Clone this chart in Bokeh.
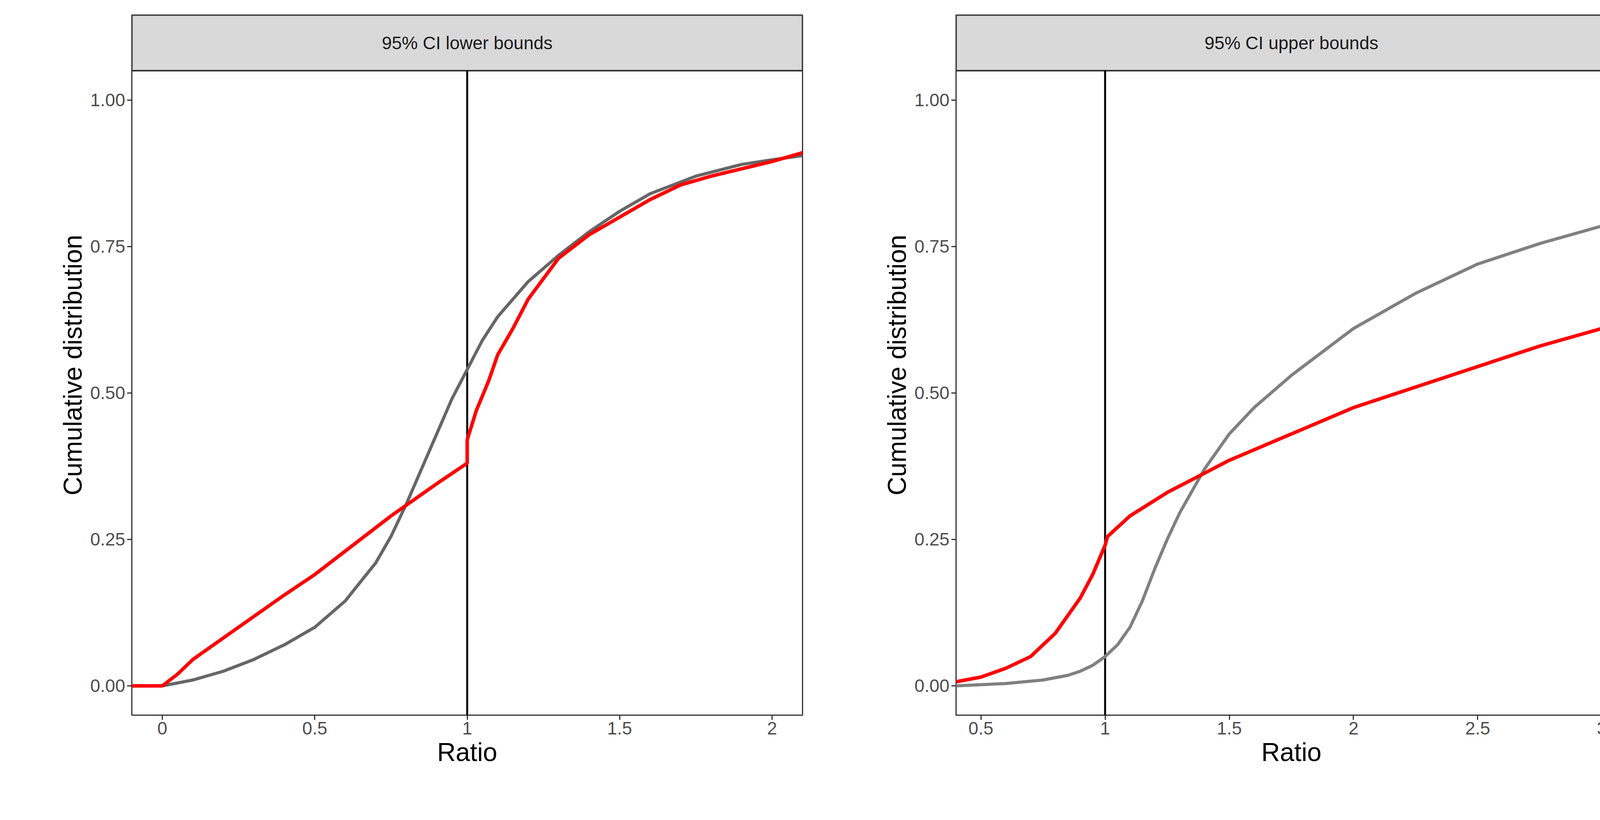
from bokeh.plotting import figure
from bokeh.layouts import row
from bokeh.models import Range1d, FixedTicker
from bokeh.embed import file_html
from bokeh.resources import INLINE

# left panel: 95% CI lower bounds
lo_gray_x = [0, 0.1, 0.2, 0.3, 0.4, 0.5, 0.6, 0.7, 0.75, 0.8, 0.85, 0.9, 0.95, 1.0, 1.05, 1.1, 1.2, 1.3, 1.4, 1.5, 1.6, 1.75, 1.9, 2.0, 2.1]
lo_gray_y = [0, 0.01, 0.025, 0.045, 0.07, 0.10, 0.145, 0.21, 0.255, 0.31, 0.37, 0.43, 0.49, 0.54, 0.59, 0.63, 0.69, 0.735, 0.775, 0.81, 0.84, 0.87, 0.89, 0.898, 0.905]
lo_red_x = [-0.1, 0.0, 0.05, 0.1, 0.25, 0.4, 0.5, 0.6, 0.75, 0.9, 1.0, 1.0, 1.03, 1.07, 1.1, 1.15, 1.2, 1.3, 1.4, 1.5, 1.6, 1.7, 1.8, 2.0, 2.1]
lo_red_y = [0, 0, 0.02, 0.045, 0.10, 0.155, 0.19, 0.23, 0.29, 0.345, 0.38, 0.42, 0.47, 0.52, 0.565, 0.61, 0.66, 0.73, 0.77, 0.80, 0.83, 0.855, 0.87, 0.895, 0.91]

# right panel: 95% CI upper bounds
hi_gray_x = [0.4, 0.6, 0.75, 0.85, 0.9, 0.95, 1.0, 1.05, 1.1, 1.15, 1.2, 1.25, 1.3, 1.4, 1.5, 1.6, 1.75, 2.0, 2.25, 2.5, 2.75, 3.0, 3.1]
hi_gray_y = [0.0, 0.004, 0.01, 0.018, 0.025, 0.035, 0.05, 0.07, 0.10, 0.145, 0.20, 0.25, 0.295, 0.37, 0.43, 0.475, 0.53, 0.61, 0.67, 0.72, 0.755, 0.785, 0.795]
hi_red_x = [0.4, 0.5, 0.6, 0.7, 0.8, 0.9, 0.95, 1.0, 1.01, 1.1, 1.25, 1.5, 1.75, 2.0, 2.25, 2.5, 2.75, 3.0, 3.1]
hi_red_y = [0.007, 0.015, 0.03, 0.05, 0.09, 0.15, 0.19, 0.24, 0.255, 0.29, 0.33, 0.385, 0.43, 0.475, 0.51, 0.545, 0.58, 0.61, 0.62]

y_ticks = [0, 0.25, 0.5, 0.75, 1.0]
y_labels = {0: "0.00", 0.25: "0.25", 0.5: "0.50", 0.75: "0.75", 1: "1.00"}
STRIP_H = 0.095


def panel(title, xr, xticks, xlabels, gx, gy, rx, ry, gray_col, right_border):
    p = figure(frame_width=1717, frame_height=1793, output_backend="svg", toolbar_location=None,
               x_range=Range1d(*xr), y_range=Range1d(-0.05, 1.05 + STRIP_H),
               min_border_top=38, min_border_bottom=253, min_border_left=337,
               min_border_right=right_border)
    p.grid.visible = False
    p.outline_line_color = "#333333"
    p.outline_line_width = 3
    # strip
    p.quad(left=xr[0], right=xr[1], bottom=1.05, top=1.05 + STRIP_H,
           fill_color="#D9D9D9", line_color="#333333", line_width=4)
    p.text(x=[(xr[0] + xr[1]) / 2], y=[1.05 + STRIP_H / 2], text=[title],
           text_align="center", text_baseline="middle", text_font_size="46px",
           text_color="#1A1A1A")
    p.segment(x0=[1], y0=[-0.05], x1=[1], y1=[1.05], line_color="black", line_width=5)
    p.line(gx, gy, line_color=gray_col, line_width=8)
    p.line(rx, ry, line_color="#FF0000", line_width=9)
    for ax in (p.xaxis[0], p.yaxis[0]):
        ax.axis_line_color = None
        ax.major_tick_line_color = "#333333"
        ax.major_tick_line_width = 3
        ax.major_tick_out = 12
        ax.major_tick_in = 0
        ax.minor_tick_line_color = None
        ax.major_label_text_font_size = "46px"
        ax.major_label_text_color = "#4D4D4D"
        ax.axis_label_text_font_size = "66px"
        ax.axis_label_text_font_style = "normal"
        ax.axis_label_text_color = "black"
    p.yaxis.ticker = FixedTicker(ticks=y_ticks)
    p.yaxis.major_label_overrides = y_labels
    p.xaxis.ticker = FixedTicker(ticks=xticks)
    p.xaxis.major_label_overrides = xlabels
    p.xaxis.axis_label = "Ratio"
    p.yaxis.axis_label = "Cumulative distribution"
    return p


p1 = panel("95% CI lower bounds", (-0.1, 2.1), [0, 0.5, 1, 1.5, 2],
           {0: "0", 0.5: "0.5", 1: "1", 1.5: "1.5", 2: "2"},
           lo_gray_x, lo_gray_y, lo_red_x, lo_red_y, "#666666", 56)
p2 = panel("95% CI upper bounds", (0.4, 3.1), [0.5, 1, 1.5, 2, 2.5, 3],
           {0.5: "0.5", 1: "1", 1.5: "1.5", 2: "2", 2.5: "2.5", 3: "3"},
           hi_gray_x, hi_gray_y, hi_red_x, hi_red_y, "#808080", 20)

layout = row(p1, p2)
open("out.html", "w").write(file_html(layout, INLINE))
